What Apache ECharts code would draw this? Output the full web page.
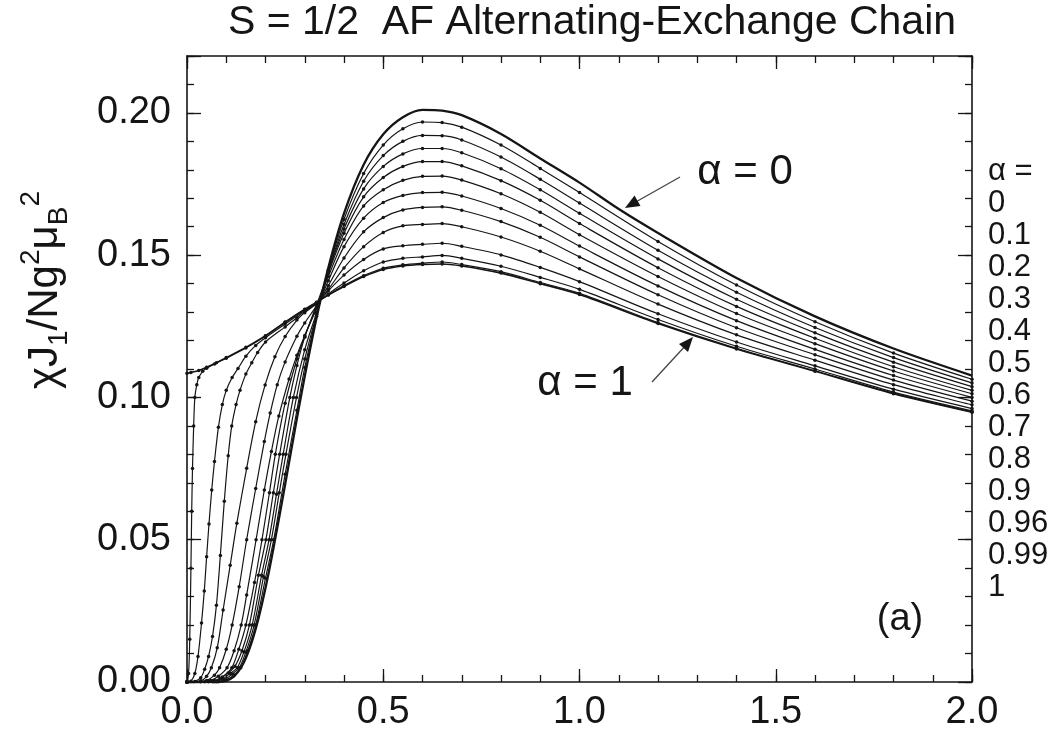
<!DOCTYPE html>
<html>
<head>
<meta charset="utf-8">
<script src="https://cdn.jsdelivr.net/npm/echarts@6/dist/echarts.min.js"></script>
<style>html,body{margin:0;padding:0;background:#fff}#c{width:1060px;height:740px}</style>
</head>
<body>
<div id="c"></div>
<script>
// ---- data : [T/J1, chi*J1/(N g^2 muB^2)] ----
const alphaLabels = ['0','0.1','0.2','0.3','0.4','0.5','0.6','0.7','0.8','0.9','0.96','0.99','1'];
const xTickLabels = ['0.0','0.5','1.0','1.5','2.0'];
const yTickLabels = ['0.00','0.05','0.10','0.15','0.20'];

const a000 = [[0,0],[0.08,0.00002],[0.1,0.0005],[0.12,0.002],[0.14,0.0056],[0.16,0.012],[0.18,0.0212],[0.2,0.033],[0.22,0.0468],[0.25,0.0694],[0.28,0.0926],[0.3,0.1074],[0.33,0.1279],[0.36,0.1456],[0.4,0.1647],[0.45,0.1818],[0.5,0.1925],[0.55,0.1985],[0.6,0.2011],[0.65,0.2008],[0.7,0.1992],[0.8,0.1926],[0.9,0.1840],[1.0,0.1755],[1.1,0.1662],[1.2,0.1578],[1.4,0.1420],[1.6,0.1285],[1.8,0.1172],[2.0,0.1077]];
const a010 = [[0,0],[0.08,0.0001],[0.1,0.0007],[0.12,0.0025],[0.137,0.005],[0.155,0.011],[0.175,0.02],[0.2,0.0365],[0.221,0.05],[0.25,0.073],[0.28,0.0955],[0.3,0.1105],[0.33,0.1285],[0.36,0.1448],[0.4,0.1626],[0.45,0.1787],[0.5,0.1887],[0.55,0.1944],[0.6,0.1968],[0.65,0.1966],[0.7,0.1950],[0.8,0.1887],[0.9,0.1805],[1.0,0.1720],[1.2,0.1548],[1.4,0.1395],[1.6,0.1266],[1.8,0.1156],[2.0,0.1064]];
const a020 = [[0,0],[0.075,0.0001],[0.095,0.0008],[0.115,0.0028],[0.133,0.005],[0.15,0.0105],[0.171,0.02],[0.195,0.037],[0.215,0.05],[0.235,0.0665],[0.252,0.08],[0.279,0.1],[0.3,0.1135],[0.33,0.1292],[0.36,0.1443],[0.4,0.1608],[0.45,0.1760],[0.5,0.1850],[0.55,0.1900],[0.6,0.1921],[0.65,0.1920],[0.7,0.1905],[0.8,0.1845],[0.9,0.1767],[1.0,0.1683],[1.2,0.1517],[1.4,0.1370],[1.6,0.1246],[1.8,0.1140],[2.0,0.1051]];
const a030 = [[0,0],[0.07,0.0001],[0.09,0.001],[0.11,0.003],[0.128,0.005],[0.145,0.0105],[0.166,0.02],[0.19,0.0375],[0.209,0.05],[0.228,0.066],[0.245,0.08],[0.271,0.1],[0.3,0.1168],[0.33,0.1298],[0.36,0.1440],[0.4,0.1592],[0.45,0.1733],[0.5,0.1812],[0.55,0.1856],[0.6,0.1875],[0.65,0.1875],[0.7,0.1860],[0.8,0.1804],[0.9,0.1730],[1.0,0.1647],[1.2,0.1487],[1.4,0.1345],[1.6,0.1227],[1.8,0.1124],[2.0,0.1038]];
const a040 = [[0,0],[0.065,0.0001],[0.085,0.0012],[0.105,0.0032],[0.122,0.0055],[0.14,0.011],[0.159,0.02],[0.182,0.0375],[0.201,0.05],[0.22,0.0665],[0.236,0.08],[0.262,0.1],[0.28,0.1112],[0.3,0.1212],[0.33,0.1325],[0.36,0.1437],[0.4,0.1577],[0.45,0.1705],[0.5,0.1773],[0.55,0.1812],[0.6,0.1829],[0.65,0.1829],[0.7,0.1814],[0.8,0.1762],[0.9,0.1693],[1.0,0.1611],[1.2,0.1456],[1.4,0.1320],[1.6,0.1208],[1.8,0.1108],[2.0,0.1025]];
const a050 = [[0,0],[0.055,0.0001],[0.07,0.0005],[0.09,0.0018],[0.114,0.005],[0.132,0.0115],[0.15,0.02],[0.172,0.035],[0.191,0.05],[0.21,0.0665],[0.225,0.08],[0.25,0.098],[0.28,0.1135],[0.3,0.1215],[0.33,0.1318],[0.36,0.1425],[0.4,0.1555],[0.45,0.1673],[0.5,0.1730],[0.55,0.1763],[0.6,0.1777],[0.65,0.1778],[0.7,0.1764],[0.8,0.1716],[0.9,0.1651],[1.0,0.1572],[1.2,0.1425],[1.4,0.1295],[1.6,0.1189],[1.8,0.1093],[2.0,0.1013]];
const a060 = [[0,0],[0.045,0.0001],[0.06,0.0005],[0.08,0.002],[0.102,0.005],[0.12,0.011],[0.138,0.02],[0.152,0.0306],[0.176,0.05],[0.197,0.0675],[0.215,0.081],[0.234,0.0935],[0.26,0.1065],[0.28,0.1148],[0.3,0.1218],[0.33,0.1312],[0.36,0.1410],[0.4,0.1530],[0.45,0.1630],[0.5,0.1685],[0.55,0.1710],[0.6,0.1720],[0.65,0.1721],[0.7,0.1708],[0.8,0.1664],[0.9,0.1605],[1.0,0.1532],[1.2,0.1392],[1.4,0.1270],[1.6,0.1169],[1.8,0.1077],[2.0,0.1000]];
const a070 = [[0,0],[0.035,0.0001],[0.05,0.0005],[0.07,0.0024],[0.083,0.005],[0.1,0.0115],[0.115,0.02],[0.133,0.0335],[0.152,0.05],[0.175,0.068],[0.197,0.0845],[0.212,0.0945],[0.23,0.1045],[0.25,0.1125],[0.28,0.1215],[0.3,0.1262],[0.33,0.1322],[0.36,0.1393],[0.4,0.1490],[0.45,0.1582],[0.5,0.1632],[0.55,0.1659],[0.6,0.1668],[0.65,0.1670],[0.7,0.1658],[0.8,0.1618],[0.9,0.1563],[1.0,0.1494],[1.2,0.1361],[1.4,0.1245],[1.6,0.1150],[1.8,0.1061],[2.0,0.0987]];
const a080 = [[0,0],[0.035,0.0004],[0.05,0.002],[0.062,0.005],[0.077,0.012],[0.092,0.0253],[0.11,0.041],[0.127,0.0558],[0.152,0.0751],[0.175,0.0915],[0.199,0.1044],[0.224,0.1143],[0.25,0.1214],[0.28,0.1272],[0.3,0.1298],[0.33,0.1330],[0.36,0.1380],[0.4,0.1455],[0.45,0.1530],[0.5,0.1580],[0.55,0.1603],[0.6,0.1608],[0.65,0.1611],[0.7,0.1600],[0.8,0.1564],[0.9,0.1514],[1.0,0.1452],[1.2,0.1328],[1.4,0.1220],[1.6,0.1131],[1.8,0.1045],[2.0,0.0974]];
const a090 = [[0,0],[0.02,0.0002],[0.035,0.0015],[0.045,0.0045],[0.055,0.009],[0.065,0.016],[0.075,0.027],[0.085,0.0445],[0.095,0.0635],[0.105,0.0795],[0.114,0.0900],[0.125,0.0975],[0.135,0.1025],[0.15,0.1082],[0.165,0.1122],[0.18,0.1158],[0.2,0.1195],[0.25,0.1248],[0.28,0.1280],[0.3,0.1303],[0.33,0.1330],[0.36,0.1375],[0.4,0.1430],[0.45,0.1485],[0.5,0.1522],[0.55,0.1533],[0.6,0.1538],[0.65,0.1542],[0.7,0.1531],[0.8,0.1501],[0.9,0.1457],[1.0,0.1407],[1.2,0.1294],[1.4,0.1195],[1.6,0.1111],[1.8,0.1029],[2.0,0.0961]];
const a096 = [[0,0],[0.01,0.0003],[0.02,0.003],[0.028,0.009],[0.037,0.0207],[0.044,0.032],[0.05,0.044],[0.056,0.0555],[0.063,0.0675],[0.07,0.0775],[0.08,0.0895],[0.09,0.0975],[0.1,0.1025],[0.115,0.107],[0.13,0.1102],[0.15,0.1145],[0.175,0.1183],[0.2,0.1210],[0.25,0.1258],[0.3,0.1306],[0.33,0.1332],[0.36,0.1364],[0.4,0.1402],[0.45,0.1445],[0.5,0.1476],[0.55,0.1489],[0.6,0.1494],[0.65,0.1499],[0.7,0.1489],[0.8,0.1461],[0.9,0.1422],[1.0,0.1380],[1.2,0.1274],[1.4,0.1180],[1.6,0.1100],[1.8,0.1019],[2.0,0.0953]];
const a099 = [[0,0],[0.004,0.003],[0.007,0.015],[0.01,0.04],[0.012,0.06],[0.014,0.075],[0.017,0.09],[0.02,0.1],[0.025,0.1045],[0.03,0.107],[0.04,0.1092],[0.05,0.1103],[0.07,0.1118],[0.1,0.1138],[0.15,0.1174],[0.2,0.1216],[0.25,0.1264],[0.3,0.1309],[0.33,0.1334],[0.36,0.1361],[0.4,0.1393],[0.45,0.1428],[0.5,0.1454],[0.55,0.1466],[0.6,0.1472],[0.65,0.1476],[0.7,0.1467],[0.8,0.1442],[0.9,0.1404],[1.0,0.1366],[1.2,0.1263],[1.4,0.1173],[1.6,0.1094],[1.8,0.1015],[2.0,0.0949]];
const a100 = [[0,0.1085],[0.01,0.1088],[0.03,0.1095],[0.05,0.1106],[0.075,0.1122],[0.1,0.1140],[0.15,0.1176],[0.2,0.1217],[0.25,0.1265],[0.3,0.1310],[0.33,0.1335],[0.36,0.1360],[0.4,0.1390],[0.45,0.1425],[0.5,0.1450],[0.55,0.1462],[0.6,0.1467],[0.65,0.1469],[0.7,0.1462],[0.8,0.1437],[0.9,0.1400],[1.0,0.1362],[1.2,0.1260],[1.4,0.1170],[1.6,0.1092],[1.8,0.1013],[2.0,0.0948]];

const curves = [a000,a010,a020,a030,a040,a050,a060,a070,a080,a090,a096,a099,a100];

// ---- chart ----
const FONT = 'Liberation Sans, Arial, Helvetica, sans-serif';
const INK = '#151515';
const chart = echarts.init(document.getElementById('c'), null, {renderer: 'canvas'});

function axisX(pos, interval, len, showLabel, showLine) {
  return {
    type: 'value', position: pos, min: 0, max: 2, interval: interval,
    axisLine: {show: showLine, onZero: false, lineStyle: {color: INK, width: 1.6}},
    axisTick: {show: true, inside: true, length: len, lineStyle: {color: INK, width: 1.3}},
    axisLabel: {show: showLabel, margin: 12, fontFamily: FONT, fontSize: 38, color: INK,
      formatter: function (v) { const i = Math.round(v / 0.5); return Math.abs(v - i * 0.5) < 1e-6 ? xTickLabels[i] : ''; }},
    splitLine: {show: false}
  };
}
function axisY(pos, interval, len, showLabel, showLine) {
  return {
    type: 'value', position: pos, min: 0, max: 0.22, interval: interval,
    axisLine: {show: showLine, onZero: false, lineStyle: {color: INK, width: 1.6}},
    axisTick: {show: true, inside: true, length: len, lineStyle: {color: INK, width: 1.3}},
    axisLabel: {show: showLabel, margin: 16, fontFamily: FONT, fontSize: 38, color: INK,
      formatter: function (v) { const i = Math.round(v / 0.05); return (Math.abs(v - i * 0.05) < 1e-6 && i < yTickLabels.length) ? yTickLabels[i] : ''; }},
    splitLine: {show: false}
  };
}

const series = curves.map(function (d, i) {
  return {
    type: 'line', name: 'α = ' + alphaLabels[i], data: d, xAxisIndex: 0, yAxisIndex: 0,
    smooth: 0.3,
    showSymbol: i > 0, symbol: 'circle', symbolSize: 3.5,
    lineStyle: {color: INK, width: i === 0 ? 2.3 : (i === 12 ? 1.6 : 1.2)},
    itemStyle: {color: INK},
    emphasis: {disabled: true}, silent: true, clip: true
  };
});

const legendText = 'α =\n' + alphaLabels.join('\n');

const option = {
  animation: false,
  backgroundColor: '#fff',
  grid: {left: 187, right: 88, top: 56, bottom: 58, containLabel: false, outerBoundsMode: 'none'},
  xAxis: [axisX('bottom', 0.5, 13, true, true), axisX('bottom', 0.1, 7, false, false),
          axisX('top', 0.5, 13, false, true), axisX('top', 0.1, 7, false, false)],
  yAxis: [axisY('left', 0.05, 14, true, true), axisY('left', 0.01, 7, false, false),
          axisY('right', 0.05, 14, false, true), axisY('right', 0.01, 7, false, false)],
  series: series,
  graphic: [
    {type: 'text', x: 592, y: 23, style: {text: 'S = 1/2  AF Alternating-Exchange Chain', font: '41px ' + FONT, fill: INK, align: 'center', verticalAlign: 'middle'}},
    {type: 'text', x: 988, y: 155, style: {text: legendText, font: '31px ' + FONT, lineHeight: 32, fill: INK, align: 'left', verticalAlign: 'top'}},
    {type: 'text', x: 900, y: 620, style: {text: '(a)', font: '38px ' + FONT, fill: INK, align: 'center', verticalAlign: 'middle'}},
    {type: 'text', x: 745, y: 172, style: {text: 'α = 0', font: '42px ' + FONT, fill: INK, align: 'center', verticalAlign: 'middle'}},
    {type: 'text', x: 585, y: 383, style: {text: 'α = 1', font: '42px ' + FONT, fill: INK, align: 'center', verticalAlign: 'middle'}},
    {type: 'line', shape: {x1: 680, y1: 177, x2: 634, y2: 203}, style: {stroke: '#444', lineWidth: 1.3}},
    {type: 'polygon', shape: {points: [[625, 208], [640.5, 206], [634.5, 195.5]]}, style: {fill: INK}},
    {type: 'line', shape: {x1: 652, y1: 382, x2: 687, y2: 344}, style: {stroke: '#444', lineWidth: 1.3}},
    {type: 'polygon', shape: {points: [[693, 337], [688, 352], [679, 344]]}, style: {fill: INK}},
    {type: 'text', x: 45, y: 290, rotation: Math.PI / 2,
      style: {text: '{m|χJ}{sub|1}{m|/Ng}{sup|2}{m|μ}{sub|B}{sup|2}', align: 'center', verticalAlign: 'middle', fill: INK,
        rich: {
          m: {font: '42px ' + FONT, lineHeight: 56, fill: INK},
          sub: {font: '28px ' + FONT, lineHeight: 27, verticalAlign: 'bottom', fill: INK},
          sup: {font: '28px ' + FONT, lineHeight: 27, verticalAlign: 'top', fill: INK}
        }}}
  ]
};
chart.setOption(option);
</script>
</body>
</html>
